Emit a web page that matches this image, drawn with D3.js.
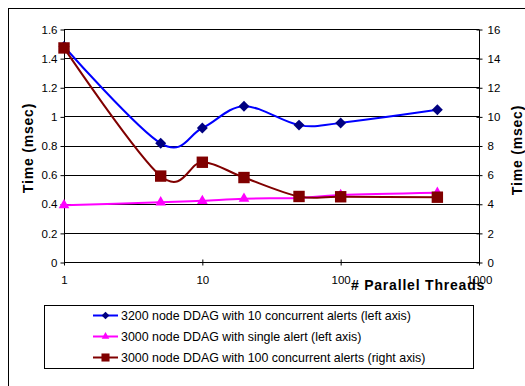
<!DOCTYPE html>
<html>
<head>
<meta charset="utf-8">
<script src="https://cdn.jsdelivr.net/npm/d3@7"></script>
<style>
  body { margin: 0; background: #fff; }
  svg text { font-family: Arial, "Liberation Sans", sans-serif; }
</style>
</head>
<body>
<div id="chart"></div>
<script>
// thread counts on the log x axis
var threads = [1, 5, 10, 20, 50, 100, 500];
// left axis series (msec)
var ddag3200Ten = [1.48, 0.815, 0.92, 1.07, 0.94, 0.955, 1.045];
var ddag3000Single = [0.39, 0.41, 0.42, 0.435, 0.44, 0.46, 0.475];
// right axis series (msec)
var ddag3000Hundred = [14.7, 5.9, 6.85, 5.8, 4.5, 4.48, 4.45];

var leftTicks = [0, 0.2, 0.4, 0.6, 0.8, 1, 1.2, 1.4, 1.6];
var rightTicks = [0, 2, 4, 6, 8, 10, 12, 14, 16];
var xTicks = [1, 10, 100, 1000];

var legendLabels = [
  "3200 node DDAG with 10 concurrent alerts (left axis)",
  "3000 node DDAG with single alert (left axis)",
  "3000 node DDAG with 100 concurrent alerts (right axis)"
];

var width = 525, height = 386;
var plot = { left: 64, right: 479, top: 29, bottom: 262 };

var svg = d3.select("#chart").append("svg")
  .attr("width", width)
  .attr("height", height);

// outer chart frame
svg.append("rect")
  .attr("x", 8.5).attr("y", 8.5)
  .attr("width", 530).attr("height", 400)
  .style("fill", "none").style("stroke", "#000").style("stroke-width", 1);

var x = d3.scaleLog().domain([1, 1000]).range([plot.left, plot.right]);
var yL = d3.scaleLinear().domain([0, 1.6]).range([plot.bottom, plot.top]);
var yR = d3.scaleLinear().domain([0, 16]).range([plot.bottom, plot.top]);

// wide excel style diamond
var diamond = {
  draw: function(ctx, size) {
    var r = Math.sqrt(size / 2);
    ctx.moveTo(0, -r); ctx.lineTo(r, 0); ctx.lineTo(0, r); ctx.lineTo(-r, 0); ctx.closePath();
  }
};

// gridlines
svg.append("g").selectAll("line")
  .data(leftTicks.slice(1))
  .enter().append("line")
  .attr("x1", plot.left).attr("x2", plot.right)
  .attr("y1", function(d) { return Math.round(yL(d)) + 0.5; })
  .attr("y2", function(d) { return Math.round(yL(d)) + 0.5; })
  .style("stroke", "#000").style("stroke-width", 1);

// left axis
var leftAxis = svg.append("g")
  .attr("transform", "translate(" + (plot.left + 0.5) + ",0.5)")
  .call(d3.axisLeft(yL).tickValues(leftTicks).tickSize(4).tickPadding(3)
    .tickFormat(function(d) { return d3.format("")(d); }));
leftAxis.select(".domain").attr("d", "M0," + plot.top + "V" + plot.bottom);

// right axis
var rightAxis = svg.append("g")
  .attr("transform", "translate(" + (plot.right + 0.5) + ",0.5)")
  .call(d3.axisRight(yR).tickValues(rightTicks).tickSize(3).tickPadding(5));
rightAxis.selectAll(".tick line").attr("x1", -3).attr("x2", 3);
rightAxis.select(".domain").attr("d", "M0," + plot.top + "V" + plot.bottom);

// bottom axis
var bottomAxis = svg.append("g")
  .attr("transform", "translate(0," + (plot.bottom + 0.5) + ")")
  .call(d3.axisBottom(x).tickValues(xTicks).tickSize(3).tickPadding(10)
    .tickFormat(d3.format("d")));
bottomAxis.selectAll(".tick line").attr("y1", -3).attr("y2", 3);
bottomAxis.select(".domain").attr("d", "M" + plot.left + ",0H" + plot.right);

svg.selectAll(".tick text").style("font-size", "11.5px").style("fill", "#000")
  .style("font-family", "Arial, 'Liberation Sans', sans-serif");
svg.selectAll(".domain, .tick line").style("stroke", "#000");

// axis titles
svg.append("text")
  .attr("transform", "translate(32.5,148) rotate(-90)")
  .attr("text-anchor", "middle")
  .style("font-size", "14px").style("font-weight", "bold").style("letter-spacing", "0.8px")
  .text("Time (msec)");
svg.append("text")
  .attr("transform", "translate(521.5,150) rotate(-90)")
  .attr("text-anchor", "middle")
  .style("font-size", "14px").style("font-weight", "bold").style("letter-spacing", "0.8px")
  .text("Time (msec)");
svg.append("text")
  .attr("x", 418).attr("y", 290)
  .attr("text-anchor", "middle")
  .style("font-size", "14px").style("font-weight", "bold").style("letter-spacing", "0.8px")
  .text("# Parallel Threads");

var series = [
  { values: ddag3200Ten, y: yL, line: "#0000ff", fill: "#000080", symbol: diamond, size: 60 },
  { values: ddag3000Single, y: yL, line: "#ff00ff", fill: "#ff00ff", symbol: d3.symbolTriangle, size: 50 },
  { values: ddag3000Hundred, y: yR, line: "#800000", fill: "#800000", symbol: d3.symbolSquare, size: 130 }
];

series.forEach(function(s) {
  var pts = threads.map(function(t, i) { return [x(t), s.y(s.values[i])]; });
  svg.append("path")
    .attr("d", d3.line().curve(d3.curveCardinal.tension(0))(pts))
    .style("fill", "none").style("stroke", s.line).style("stroke-width", 2);
  svg.append("g").selectAll("path")
    .data(pts).enter().append("path")
    .attr("transform", function(d) { return "translate(" + d[0] + "," + d[1] + ")"; })
    .attr("d", d3.symbol().type(s.symbol).size(s.size))
    .style("fill", s.fill);
});

// legend
var legend = svg.append("g");
legend.append("rect")
  .attr("x", 44.5).attr("y", 305.5).attr("width", 429).attr("height", 63)
  .style("fill", "#fff").style("stroke", "#000");
series.forEach(function(s, i) {
  var ly = 315.5 + i * 21;
  legend.append("line")
    .attr("x1", 93).attr("x2", 118).attr("y1", ly).attr("y2", ly)
    .style("stroke", s.line).style("stroke-width", 2);
  legend.append("path")
    .attr("transform", "translate(105.5," + ly + ")")
    .attr("d", d3.symbol().type(s.symbol).size(s.size * 0.5))
    .style("fill", s.fill);
  legend.append("text")
    .attr("x", 121).attr("y", ly + 4.5)
    .style("font-size", "12.4px")
    .text(legendLabels[i]);
});
</script>
</body>
</html>
